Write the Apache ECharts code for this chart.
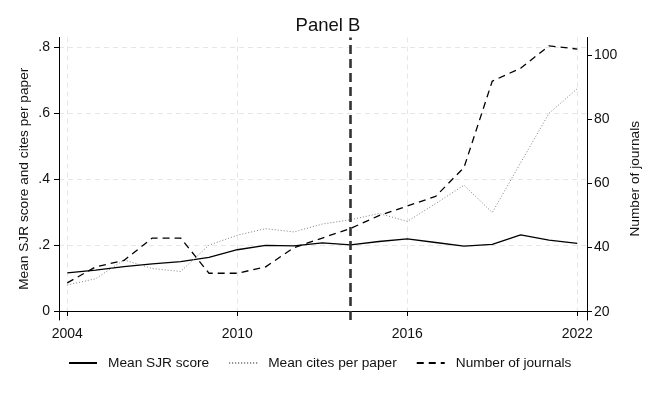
<!DOCTYPE html>
<html>
<head>
<meta charset="utf-8">
<script src="https://cdn.jsdelivr.net/npm/echarts@6/dist/echarts.min.js"></script>
<style>html,body{margin:0;padding:0;background:#fff;}#c{width:657px;height:394px;}</style>
</head>
<body>
<div id="c"></div>
<script>
const years = [2004,2005,2006,2007,2008,2009,2010,2011,2012,2013,2014,2015,2016,2017,2018,2019,2020,2021,2022];
const sjr = [0.116,0.124,0.135,0.143,0.150,0.163,0.186,0.199,0.198,0.207,0.201,0.211,0.219,0.208,0.197,0.202,0.231,0.215,0.205];
const cites = [0.079,0.098,0.155,0.129,0.120,0.200,0.230,0.250,0.240,0.264,0.277,0.296,0.272,0.326,0.382,0.299,0.450,0.600,0.675];
const journals = [29,34,36,43,43,32,32,34,40,43,46,50,53,56,65,92,96,103,102];
const xTicks = [2004,2010,2016,2022];
const leftTicks = [0,0.2,0.4,0.6,0.8];
const rightTicks = [20,40,60,80,100];
const policyYear = 2014;
const seriesNames = ['Mean SJR score','Mean cites per paper','Number of journals'];

const font = 'Liberation Sans, Arial, Helvetica, sans-serif';
const pair = arr => years.map((y,i)=>[y,arr[i]]);
const chart = echarts.init(document.getElementById('c'), null, {renderer:'canvas'});
chart.setOption({
  animation:false,
  backgroundColor:'#fff',
  title:{text:'Panel B',left:323,top:11,textAlign:'center',textStyle:{fontFamily:font,fontSize:18.5,fontWeight:'normal',color:'#111'}},
  legend:{
    bottom:19,left:63,itemWidth:28,itemHeight:8,itemGap:19,
    itemStyle:{opacity:0},
    textStyle:{fontFamily:font,fontSize:13.7,color:'#111',padding:[0,0,0,6]},
    data:seriesNames
  },
  grid:{left:59,right:70,top:37.5,bottom:74,containLabel:false},
  xAxis:{
    type:'value',min:2003.707,max:2022.342,
    axisLine:{show:true,lineStyle:{color:'#000',width:1}},
    axisTick:{show:true,length:5,customValues:xTicks,lineStyle:{color:'#000'}},
    axisLabel:{customValues:xTicks,margin:7,fontFamily:font,fontSize:14,color:'#111',formatter:v=>String(v)},
    splitLine:{show:true,lineStyle:{color:'#e6e6e6',type:[5,4],width:1}}
  },
  yAxis:[{
    type:'value',position:'left',min:-0.0273,max:0.8303,
    name:'Mean SJR score and cites per paper',nameLocation:'middle',nameGap:28,nameRotate:90,nameMoveOverlap:false,
    nameTextStyle:{fontFamily:font,fontSize:13.7,color:'#111'},
    axisLine:{show:true,lineStyle:{color:'#000',width:1}},
    axisTick:{show:true,length:5,customValues:leftTicks,lineStyle:{color:'#000'}},
    axisLabel:{customValues:leftTicks,margin:9,fontFamily:font,fontSize:14,color:'#111',
      formatter:v=>v===0?'0':String(Math.round(v*10)/10).replace(/^0/,'')},
    splitLine:{show:true,lineStyle:{color:'#e6e6e6',type:[5,4],width:1}}
  },{
    type:'value',position:'right',min:17.41,max:105.6,
    name:'Number of journals',nameLocation:'middle',nameGap:41,nameRotate:90,nameMoveOverlap:false,
    nameTextStyle:{fontFamily:font,fontSize:13.7,color:'#111'},
    axisLine:{show:true,lineStyle:{color:'#000',width:1}},
    axisTick:{show:true,length:5,customValues:rightTicks,lineStyle:{color:'#000'}},
    axisLabel:{customValues:rightTicks,margin:7,fontFamily:font,fontSize:14,color:'#111'},
    splitLine:{show:false}
  }],
  series:[{
    name:seriesNames[0],type:'line',yAxisIndex:0,data:pair(sjr),symbol:'none',
    lineStyle:{color:'#000',width:1.3,type:'solid'},itemStyle:{color:'#000'}
  },{
    name:seriesNames[1],type:'line',yAxisIndex:0,data:pair(cites),symbol:'none',
    lineStyle:{color:'#808080',width:1,type:[1,2]},itemStyle:{color:'#808080'}
  },{
    name:seriesNames[2],type:'line',yAxisIndex:1,data:pair(journals),symbol:'none',
    lineStyle:{color:'#000',width:1.3,type:[7,5]},itemStyle:{color:'#000'},
    markLine:{silent:true,symbol:['none','none'],label:{show:false},
      lineStyle:{color:'#333',width:2.6,type:[9,5]},
      data:[{xAxis:policyYear}]}
  }]
});
</script>
</body>
</html>
